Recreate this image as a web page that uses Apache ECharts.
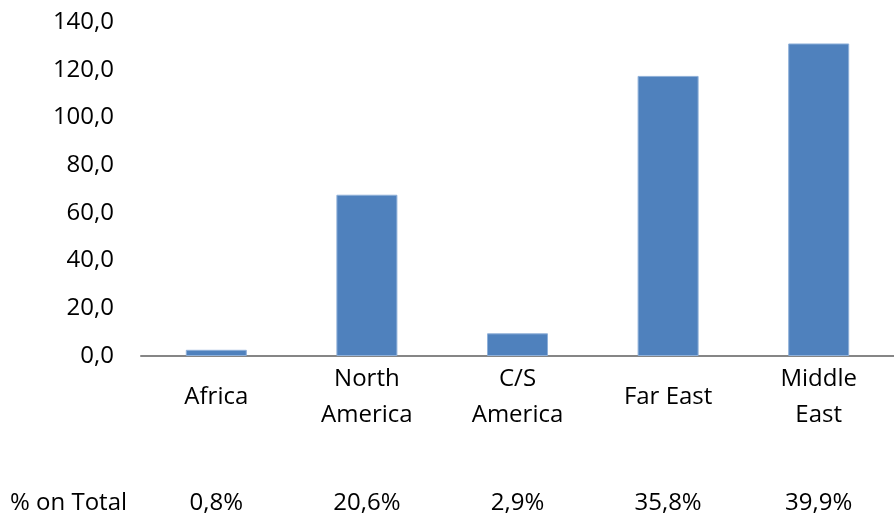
<!DOCTYPE html>
<html>
<head>
<meta charset="utf-8">
<script src="https://cdn.jsdelivr.net/npm/echarts@6/dist/echarts.min.js"></script>
<style>
  html, body { margin: 0; padding: 0; background: #fff; }
  #chart { width: 894px; height: 520px; }
</style>
</head>
<body>
<div id="chart"></div>
<script>
// Regions and their values
const regions = ['Africa', 'North\nAmerica', 'C/S\nAmerica', 'Far East', 'Middle\nEast'];
const values = [2.6, 67.6, 9.5, 117.4, 131.0];
// Share of each region on the total
const shares = ['0,8%', '20,6%', '2,9%', '35,8%', '39,9%'];
const yTicks = [0, 20, 40, 60, 80, 100, 120, 140];

const font = 'Open Sans, Noto Sans, sans-serif';
const fontSize = 24;
const fmt = v => v.toFixed(1).replace('.', ',');

const chart = echarts.init(document.getElementById('chart'), null, { renderer: 'canvas' });
chart.setOption({
  animation: false,
  grid: { left: 141, right: 0, top: 22, bottom: 164, containLabel: false },
  xAxis: [
    {
      type: 'category',
      data: regions,
      position: 'bottom',
      axisLine: { lineStyle: { color: '#868686', width: 2 } },
      axisTick: { show: false },
      axisLabel: {
        color: '#000', fontFamily: font, fontSize: fontSize, lineHeight: 36,
        margin: 41, verticalAlign: 'middle', interval: 0
      }
    },
    {
      type: 'category',
      data: regions,
      position: 'bottom',
      offset: 147,
      axisLine: { show: false },
      axisTick: { show: false },
      axisLabel: {
        color: '#000', fontFamily: font, fontSize: fontSize, interval: 0,
        margin: 0, verticalAlign: 'middle',
        formatter: (v, i) => shares[i]
      }
    }
  ],
  yAxis: {
    type: 'value',
    min: yTicks[0],
    max: yTicks[yTicks.length - 1],
    interval: 20,
    axisLine: { show: false },
    axisTick: { show: false },
    splitLine: { show: false },
    axisLabel: { color: '#000', fontFamily: font, fontSize: fontSize, margin: 27, formatter: fmt }
  },
  graphic: [{
    type: 'text',
    x: 10,
    y: 503,
    style: {
      text: '% on Total', fill: '#000',
      font: fontSize + 'px ' + font, verticalAlign: 'middle'
    }
  }],
  series: [{
    type: 'bar',
    data: values,
    barWidth: 61,
    itemStyle: { color: '#4f81bd', borderColor: '#8fb0d9', borderWidth: 1 }
  }]
});
</script>
</body>
</html>
